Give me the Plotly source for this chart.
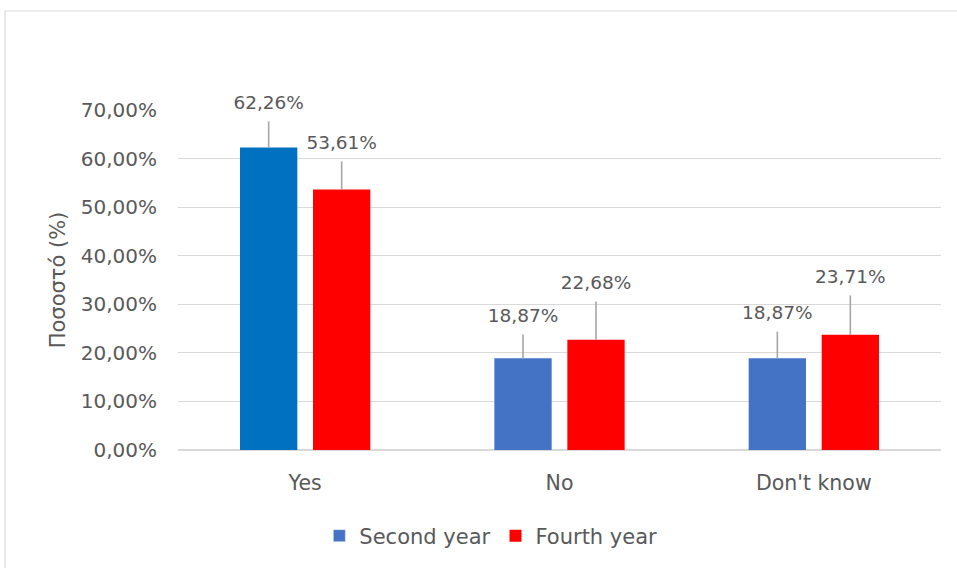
import plotly.graph_objects as go

# Survey answers by study year (percent of respondents)
categories = ["Yes", "No", "Don't know"]
series_names = ["Second year", "Fourth year"]
second_year = [62.26, 18.87, 18.87]
fourth_year = [53.61, 22.68, 23.71]
# upper error amounts (percentage points)
second_err = [5.4, 4.9, 5.5]
fourth_err = [5.8, 7.9, 8.1]
y_ticks = [0, 10, 20, 30, 40, 50, 60, 70]

second_colors = ["#0070C0", "#4472C4", "#4472C4"]
second_legend_color = "#4472C4"
fourth_color = "#FF0000"
text_color = "#595959"
grid_color = "#D9D9D9"
err_color = "#A6A6A6"
FONT = "DejaVu Sans"


def pct_label(v):
    return f"{v:.2f}".replace(".", ",") + "%"


fig = go.Figure()

for name, vals, errs, color, rank in [
    (series_names[0], second_year, second_err, second_colors, 1),
    (series_names[1], fourth_year, fourth_err, fourth_color, 2),
]:
    fig.add_trace(go.Bar(
        x=categories, y=vals, name=name,
        marker=dict(color=color, line=dict(width=0)),
        offsetgroup=name, alignmentgroup="a",
        showlegend=(rank == 2), legendrank=rank,
        error_y=dict(type="data", symmetric=False, array=errs,
                     arrayminus=[0] * len(errs), color=err_color,
                     thickness=1.6, width=0),
    ))

# legend swatch for the second-year series in its base colour
fig.add_trace(go.Bar(
    x=[None], y=[None], name=series_names[0],
    marker=dict(color=second_legend_color),
    showlegend=True, legendrank=1, hoverinfo="skip",
    offsetgroup=series_names[0], alignmentgroup="a",
))

# value labels sitting above the error bars
for name, vals, errs in [
    (series_names[0], second_year, second_err),
    (series_names[1], fourth_year, fourth_err),
]:
    fig.add_trace(go.Scatter(
        x=categories, y=[v + e for v, e in zip(vals, errs)],
        mode="markers+text", text=[pct_label(v) for v in vals],
        textposition="top center",
        textfont=dict(family=FONT, size=18.5, color=text_color),
        marker=dict(size=11, opacity=0),
        offsetgroup=name, alignmentgroup="a",
        showlegend=False, hoverinfo="skip", cliponaxis=False,
    ))

# outer chart frame
fig.add_shape(type="rect", xref="paper", yref="paper",
              x0=-0.2267, x1=1.2, y0=-0.6, y1=1.2912,
              line=dict(color=grid_color, width=1.2), layer="below")

fig.update_layout(
    width=957, height=568,
    margin=dict(l=178, r=16, t=110, b=118),
    paper_bgcolor="white", plot_bgcolor="white",
    barmode="group", bargap=0.426, bargroupgap=0.215,
    scattermode="group", scattergap=0.426,
    font=dict(family=FONT, color=text_color, size=19),
    xaxis=dict(showgrid=False, showline=False, ticks="",
               tickfont=dict(size=20.5, color=text_color),
               ticklabelstandoff=18),
    yaxis=dict(range=[0, 70], tickmode="array", tickvals=y_ticks,
               ticktext=[pct_label(t) for t in y_ticks],
               showgrid=True, gridcolor=grid_color,
               gridwidth=1.3, zeroline=True, zerolinecolor=grid_color,
               zerolinewidth=1.6, showline=False, ticks="",
               ticklabelstandoff=20,
               tickfont=dict(size=20, color=text_color),
               title=dict(text="Ποσοστό (%)", standoff=9,
                          font=dict(size=21, color=text_color))),
    legend=dict(orientation="h", x=0.41, xanchor="center",
                y=-0.253, yanchor="middle",
                font=dict(size=21, color=text_color),
                traceorder="normal"),
)

fig.write_html("out.html")
